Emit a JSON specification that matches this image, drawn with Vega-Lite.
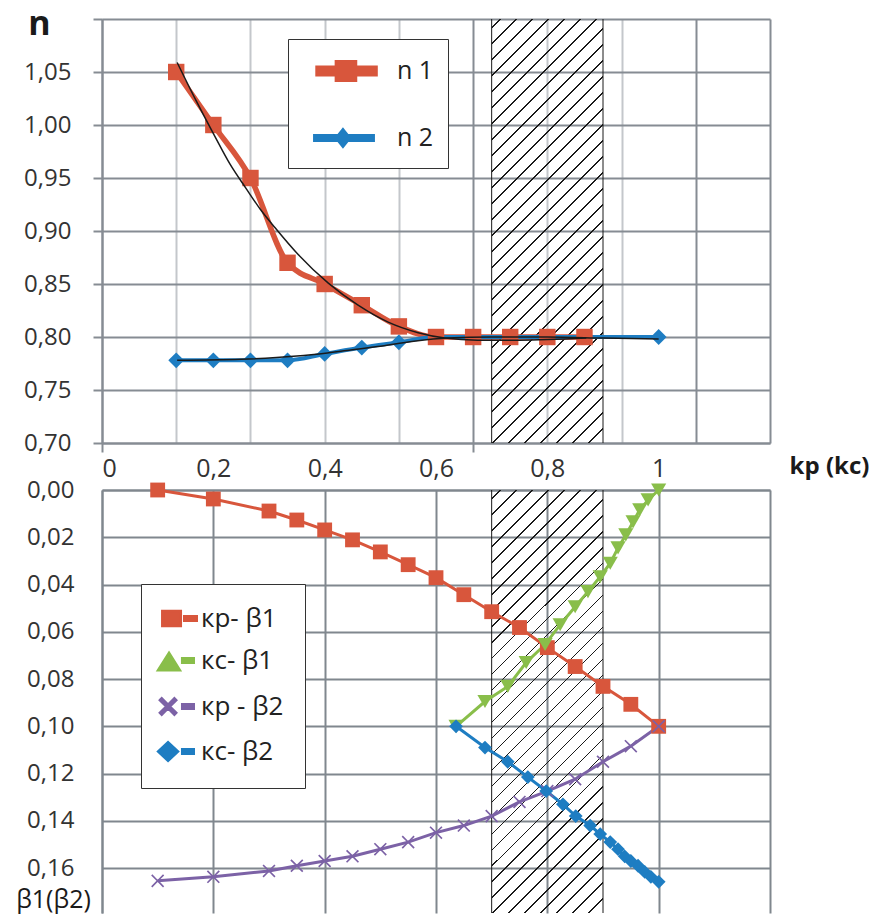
{
  "$schema": "https://vega.github.io/schema/vega-lite/v6.json",
  "autosize": {"type": "pad"},
  "padding": {"left": 15, "top": 7, "right": 0, "bottom": 0},
  "background": "white",
  "datasets": {
    "band": [{"a": 0.7, "b": 0.9}],
    "edges": [{"v": 0.7}, {"v": 0.9}],
    "top": [
      {"s": "n 1", "kp": 0.1333, "n": 1.05},
      {"s": "n 1", "kp": 0.2, "n": 1.0},
      {"s": "n 1", "kp": 0.2667, "n": 0.95},
      {"s": "n 1", "kp": 0.3333, "n": 0.87},
      {"s": "n 1", "kp": 0.4, "n": 0.85},
      {"s": "n 1", "kp": 0.4667, "n": 0.83},
      {"s": "n 1", "kp": 0.5333, "n": 0.81},
      {"s": "n 1", "kp": 0.6, "n": 0.8},
      {"s": "n 1", "kp": 0.6667, "n": 0.8},
      {"s": "n 1", "kp": 0.7333, "n": 0.8},
      {"s": "n 1", "kp": 0.8, "n": 0.8},
      {"s": "n 1", "kp": 0.8667, "n": 0.8},
      {"s": "n 2", "kp": 0.1333, "n": 0.778},
      {"s": "n 2", "kp": 0.2, "n": 0.778},
      {"s": "n 2", "kp": 0.2667, "n": 0.778},
      {"s": "n 2", "kp": 0.3333, "n": 0.778},
      {"s": "n 2", "kp": 0.4, "n": 0.784},
      {"s": "n 2", "kp": 0.4667, "n": 0.79},
      {"s": "n 2", "kp": 0.5333, "n": 0.795},
      {"s": "n 2", "kp": 0.6, "n": 0.8},
      {"s": "n 2", "kp": 0.6667, "n": 0.8},
      {"s": "n 2", "kp": 0.7333, "n": 0.8},
      {"s": "n 2", "kp": 0.8, "n": 0.8},
      {"s": "n 2", "kp": 0.8667, "n": 0.8},
      {"s": "n 2", "kp": 1.0, "n": 0.8}
    ],
    "trend": [
      {"s": "t1", "kp": 0.135, "n": 1.059},
      {"s": "t1", "kp": 0.17, "n": 1.022},
      {"s": "t1", "kp": 0.203, "n": 0.989},
      {"s": "t1", "kp": 0.23, "n": 0.963},
      {"s": "t1", "kp": 0.259, "n": 0.94},
      {"s": "t1", "kp": 0.285, "n": 0.92},
      {"s": "t1", "kp": 0.311, "n": 0.903},
      {"s": "t1", "kp": 0.352, "n": 0.878},
      {"s": "t1", "kp": 0.406, "n": 0.851},
      {"s": "t1", "kp": 0.46, "n": 0.83},
      {"s": "t1", "kp": 0.514, "n": 0.814},
      {"s": "t1", "kp": 0.568, "n": 0.804},
      {"s": "t1", "kp": 0.616, "n": 0.799},
      {"s": "t1", "kp": 0.675, "n": 0.797},
      {"s": "t1", "kp": 0.75, "n": 0.797},
      {"s": "t1", "kp": 0.87, "n": 0.799},
      {"s": "t2", "kp": 0.135, "n": 0.778},
      {"s": "t2", "kp": 0.25, "n": 0.779},
      {"s": "t2", "kp": 0.35, "n": 0.782},
      {"s": "t2", "kp": 0.405, "n": 0.785},
      {"s": "t2", "kp": 0.45, "n": 0.788},
      {"s": "t2", "kp": 0.495, "n": 0.791},
      {"s": "t2", "kp": 0.56, "n": 0.796},
      {"s": "t2", "kp": 0.62, "n": 0.799},
      {"s": "t2", "kp": 0.7, "n": 0.8},
      {"s": "t2", "kp": 0.8, "n": 0.8},
      {"s": "t2", "kp": 0.9, "n": 0.799},
      {"s": "t2", "kp": 1.0, "n": 0.798}
    ],
    "bot": [
      {"s": "кр- β1", "kp": 0.1, "b": 0.0},
      {"s": "кр- β1", "kp": 0.2, "b": 0.0038},
      {"s": "кр- β1", "kp": 0.3, "b": 0.0089},
      {"s": "кр- β1", "kp": 0.35, "b": 0.0127},
      {"s": "кр- β1", "kp": 0.4, "b": 0.0169},
      {"s": "кр- β1", "kp": 0.45, "b": 0.0211},
      {"s": "кр- β1", "kp": 0.5, "b": 0.0262},
      {"s": "кр- β1", "kp": 0.55, "b": 0.0316},
      {"s": "кр- β1", "kp": 0.6, "b": 0.0371},
      {"s": "кр- β1", "kp": 0.65, "b": 0.0443},
      {"s": "кр- β1", "kp": 0.7, "b": 0.0515},
      {"s": "кр- β1", "kp": 0.75, "b": 0.0582},
      {"s": "кр- β1", "kp": 0.8, "b": 0.0667},
      {"s": "кр- β1", "kp": 0.85, "b": 0.0747},
      {"s": "кр- β1", "kp": 0.9, "b": 0.0831},
      {"s": "кр- β1", "kp": 0.95, "b": 0.0907},
      {"s": "кр- β1", "kp": 1.0, "b": 0.1},
      {"s": "кс- β1", "kp": 0.636, "b": 0.1},
      {"s": "кс- β1", "kp": 0.688, "b": 0.0895},
      {"s": "кс- β1", "kp": 0.729, "b": 0.0831},
      {"s": "кс- β1", "kp": 0.762, "b": 0.073},
      {"s": "кс- β1", "kp": 0.796, "b": 0.0654},
      {"s": "кс- β1", "kp": 0.823, "b": 0.057},
      {"s": "кс- β1", "kp": 0.85, "b": 0.0494},
      {"s": "кс- β1", "kp": 0.873, "b": 0.043},
      {"s": "кс- β1", "kp": 0.895, "b": 0.0367},
      {"s": "кс- β1", "kp": 0.913, "b": 0.031},
      {"s": "кс- β1", "kp": 0.927, "b": 0.0245},
      {"s": "кс- β1", "kp": 0.941, "b": 0.019},
      {"s": "кс- β1", "kp": 0.954, "b": 0.0135},
      {"s": "кс- β1", "kp": 0.966, "b": 0.0084},
      {"s": "кс- β1", "kp": 0.981, "b": 0.0042},
      {"s": "кс- β1", "kp": 1.0, "b": 0.0},
      {"s": "кр - β2", "kp": 0.1, "b": 0.1654},
      {"s": "кр - β2", "kp": 0.2, "b": 0.1637},
      {"s": "кр - β2", "kp": 0.3, "b": 0.1612},
      {"s": "кр - β2", "kp": 0.35, "b": 0.159},
      {"s": "кр - β2", "kp": 0.4, "b": 0.157},
      {"s": "кр - β2", "kp": 0.45, "b": 0.155},
      {"s": "кр - β2", "kp": 0.5, "b": 0.152},
      {"s": "кр - β2", "kp": 0.55, "b": 0.149},
      {"s": "кр - β2", "kp": 0.6, "b": 0.145},
      {"s": "кр - β2", "kp": 0.65, "b": 0.142},
      {"s": "кр - β2", "kp": 0.7, "b": 0.138},
      {"s": "кр - β2", "kp": 0.75, "b": 0.132},
      {"s": "кр - β2", "kp": 0.8, "b": 0.1274},
      {"s": "кр - β2", "kp": 0.85, "b": 0.1224},
      {"s": "кр - β2", "kp": 0.9, "b": 0.115},
      {"s": "кр - β2", "kp": 0.95, "b": 0.1084},
      {"s": "кр - β2", "kp": 1.0, "b": 0.1},
      {"s": "кс- β2", "kp": 0.636, "b": 0.1},
      {"s": "кс- β2", "kp": 0.688, "b": 0.109},
      {"s": "кс- β2", "kp": 0.729, "b": 0.115},
      {"s": "кс- β2", "kp": 0.765, "b": 0.1215},
      {"s": "кс- β2", "kp": 0.798, "b": 0.1274},
      {"s": "кс- β2", "kp": 0.828, "b": 0.133},
      {"s": "кс- β2", "kp": 0.851, "b": 0.138},
      {"s": "кс- β2", "kp": 0.877, "b": 0.142},
      {"s": "кс- β2", "kp": 0.895, "b": 0.1456},
      {"s": "кс- β2", "kp": 0.913, "b": 0.149},
      {"s": "кс- β2", "kp": 0.927, "b": 0.152},
      {"s": "кс- β2", "kp": 0.939, "b": 0.155},
      {"s": "кс- β2", "kp": 0.95, "b": 0.157},
      {"s": "кс- β2", "kp": 0.963, "b": 0.159},
      {"s": "кс- β2", "kp": 0.975, "b": 0.1616},
      {"s": "кс- β2", "kp": 0.986, "b": 0.1637},
      {"s": "кс- β2", "kp": 1.0, "b": 0.1658}
    ]
  },
  "vconcat": [
    {
      "width": 668,
      "height": 424,
      "layer": [
        {
          "data": {"name": "band"},
          "mark": {"type": "rect"},
          "encoding": {
            "x": {"field": "a", "type": "quantitative"},
            "x2": {"field": "b"}
          }
        },
        {
          "data": {"name": "edges"},
          "mark": {"type": "rule", "color": "#1a1a1a", "strokeWidth": 1},
          "encoding": {"x": {"field": "v", "type": "quantitative"}}
        },
        {
          "data": {"name": "top"},
          "mark": {"type": "line", "interpolate": "monotone"},
          "encoding": {
            "x": {
              "field": "kp", "type": "quantitative",
              "scale": {"domain": [0, 1.2], "nice": false, "zero": false},
              "axis": {
                "values": [0, 0.06667, 0.13333, 0.2, 0.26667, 0.33333, 0.4, 0.46667, 0.53333, 0.6, 0.66667, 0.73333, 0.8, 0.86667, 0.93333, 1, 1.06667, 1.13333, 1.2],
                "labels": false,
                "title": null,
                "tickSize": 9,
                "tickWidth": 2,
                "tickColor": "#868c93",
                "tickOpacity": {"condition": {"test": "abs(datum.value*3 - round(datum.value*3)) < 0.01 && datum.value < 1.01", "value": 1}, "value": 0},
                "gridColor": {"condition": {"test": "abs(datum.value*3 - round(datum.value*3)) < 0.01 || datum.value > 1.01", "value": "#868c93"}, "value": "#c4c7cb"},
                "gridWidth": 2,
                "domainColor": "#868c93",
                "domainWidth": 2
              }
            },
            "y": {
              "field": "n", "type": "quantitative",
              "scale": {"domain": [0.7, 1.1], "nice": false, "zero": false},
              "axis": {
                "values": [0.7, 0.75, 0.8, 0.85, 0.9, 0.95, 1.0, 1.05, 1.1],
                "labelExpr": "datum.value > 1.09 ? '' : replace(format(datum.value, '.2f'), '.', ',')",
                "title": "n",
                "titleAngle": 0,
                "titleX": -63,
                "titleY": 15,
                "titleAlign": "center",
                "titleBaseline": "alphabetic",
                "titleFont": "Open Sans",
                "titleFontSize": 34,
                "titleFontWeight": "bold",
                "titleColor": "#1a1a1a",
                "tickSize": 9,
                "tickWidth": 2,
                "tickColor": "#868c93",
                "domainColor": "#868c93",
                "domainWidth": 2,
                "gridColor": "#868c93",
                "gridWidth": 2.2,
                "labelFont": "Open Sans",
                "labelFontSize": 24,
                "labelColor": "#333333",
                "labelPadding": 22
              }
            },
            "color": {
              "field": "s", "type": "nominal",
              "scale": {"domain": ["n 1", "n 2"], "range": ["#d8563c", "#1e7dc2"]},
              "legend": {
                "orient": "none",
                "legendX": 186,
                "legendY": 20,
                "title": null,
                "fillColor": "white",
                "strokeColor": "#333333",
                "padding": 14,
                "symbolSize": 900,
                "rowPadding": 30,
                "labelOffset": 59,
                "labelFont": "Open Sans",
                "labelFontSize": 25,
                "labelColor": "#222222",
                "labelExpr": "datum.label + '\u00a0\u00a0\u00a0\u00a0\u00a0\u00a0'",
                "symbolStrokeWidth": 0,
                "encode": {
                  "symbols": {
                    "update": {
                      "shape": {"signal": "['M-0.13,-0.18H3.67V0.18H-0.13Z M1.16,-0.55H2.3V0.55H1.16Z', 'M-0.33,-0.13H3.53V0.13H-0.33Z M1.53,-0.5L1.93,0L1.53,0.5L1.13,0Z'][datum.index]"},
                      "fill": {"signal": "['#d8563c', '#1e7dc2'][datum.index]"},
                      "fillOpacity": {"value": 1},
                      "opacity": {"value": 1},
                      "strokeWidth": {"value": 0}
                    }
                  }
                }
              }
            },
            "strokeWidth": {
              "field": "s", "type": "ordinal",
              "scale": {"domain": ["n 1", "n 2"], "range": [5.5, 4]},
              "legend": null
            }
          }
        },
        {
          "data": {"name": "top"},
          "transform": [{"filter": "datum.s == 'n 2'"}],
          "mark": {"type": "point", "filled": true, "opacity": 1, "shape": "diamond", "size": 250, "color": "#1e7dc2"},
          "encoding": {
            "x": {"field": "kp", "type": "quantitative"},
            "y": {"field": "n", "type": "quantitative"}
          }
        },
        {
          "data": {"name": "top"},
          "transform": [{"filter": "datum.s == 'n 1'"}],
          "mark": {"type": "point", "filled": true, "opacity": 1, "shape": "square", "size": 270, "color": "#d8563c"},
          "encoding": {
            "x": {"field": "kp", "type": "quantitative"},
            "y": {"field": "n", "type": "quantitative"}
          }
        },
        {
          "data": {"name": "trend"},
          "mark": {"type": "line", "color": "#1a1a1a", "strokeWidth": 1.5, "interpolate": "monotone"},
          "encoding": {
            "x": {"field": "kp", "type": "quantitative"},
            "y": {"field": "n", "type": "quantitative"},
            "detail": {"field": "s", "type": "nominal"}
          }
        }
      ]
    },
    {
      "width": 668,
      "height": 423,
      "layer": [
        {
          "data": {"name": "band"},
          "mark": {"type": "rect"},
          "encoding": {
            "x": {"field": "a", "type": "quantitative"},
            "x2": {"field": "b"}
          }
        },
        {
          "data": {"name": "edges"},
          "mark": {"type": "rule", "color": "#1a1a1a", "strokeWidth": 1},
          "encoding": {"x": {"field": "v", "type": "quantitative"}}
        },
        {
          "data": {"name": "bot"},
          "mark": {"type": "line"},
          "encoding": {
            "x": {
              "field": "kp", "type": "quantitative",
              "scale": {"domain": [0, 1.2], "nice": false, "zero": false},
              "axis": {
                "orient": "top",
                "values": [0, 0.2, 0.4, 0.6, 0.8, 1.0, 1.2],
                "labelExpr": "datum.value < 0.01 ? '0' : datum.value > 1.1 ? '' : datum.value > 0.99 ? '1' : replace(format(datum.value, '.1f'), '.', ',')",
                "ticks": false,
                "labelPadding": 9,
                "labelFont": "Open Sans",
                "labelFontSize": 25,
                "labelColor": "#333333",
                "domainColor": "#80878e",
                "domainWidth": 2,
                "gridColor": "#80878e",
                "gridWidth": 2,
                "title": "kp (kc)",
                "titleAngle": 0,
                "titleX": 727,
                "titleY": -24,
                "titleAlign": "center",
                "titleBaseline": "middle",
                "titleFont": "Open Sans",
                "titleFontSize": 24,
                "titleFontWeight": "bold",
                "titleColor": "#1a1a1a"
              }
            },
            "y": {
              "field": "b", "type": "quantitative",
              "scale": {"domain": [0, 0.179], "nice": false, "zero": false, "reverse": true},
              "axis": {
                "values": [0, 0.02, 0.04, 0.06, 0.08, 0.1, 0.12, 0.14, 0.16],
                "labelExpr": "replace(format(datum.value, '.2f'), '.', ',')",
                "ticks": false,
                "labelPadding": 28,
                "labelFont": "Open Sans",
                "labelFontSize": 24,
                "labelColor": "#333333",
                "domainColor": "#80878e",
                "domainWidth": 2,
                "gridColor": "#80878e",
                "gridWidth": 2,
                "title": "β1(β2)",
                "titleAngle": 0,
                "titleX": -49,
                "titleY": 422,
                "titleAlign": "center",
                "titleBaseline": "bottom",
                "titleFont": "Open Sans",
                "titleFontSize": 25,
                "titleFontWeight": "normal",
                "titleColor": "#1a1a1a"
              }
            },
            "color": {
              "field": "s", "type": "nominal",
              "scale": {"domain": ["кр- β1", "кс- β1", "кр - β2", "кс- β2"], "range": ["#d8563c", "#89be4a", "#7c62a6", "#1e7dc2"]},
              "legend": {
                "orient": "none",
                "legendX": 39,
                "legendY": 94,
                "title": null,
                "fillColor": "white",
                "strokeColor": "#333333",
                "padding": 21,
                "symbolSize": 576,
                "rowPadding": 15,
                "labelOffset": 12,
                "labelFont": "Open Sans",
                "labelFontSize": 26,
                "labelColor": "#222222",
                "symbolStrokeWidth": 0,
                "encode": {
                  "symbols": {
                    "update": {
                      "shape": {"signal": "['M-1.08,-0.6H0.42V0.6H-1.08Z M0.75,-0.17H1.75V0.17H0.75Z', 'M-0.54,-0.6L0.33,0.8H-1.42Z M0.58,-0.17H1.5V0.17H0.58Z', 'M-1.27,-0.53L-1.15,-0.65L-0.62,-0.12L-0.09,-0.65L0.03,-0.53L-0.5,0L0.03,0.53L-0.09,0.65L-0.62,0.12L-1.15,0.65L-1.27,0.53L-0.74,0Z M0.58,-0.17H1.5V0.17H0.58Z', 'M-0.62,-0.75L0.18,0L-0.62,0.75L-1.42,0Z M0.58,-0.17H1.5V0.17H0.58Z'][datum.index]"},
                      "fill": {"signal": "['#d8563c', '#89be4a', '#7c62a6', '#1e7dc2'][datum.index]"},
                      "fillOpacity": {"value": 1},
                      "opacity": {"value": 1},
                      "strokeWidth": {"value": 0}
                    }
                  }
                }
              }
            },
            "strokeWidth": {
              "field": "s", "type": "ordinal",
              "scale": {"domain": ["кр- β1", "кс- β1", "кр - β2", "кс- β2"], "range": [3, 3, 3, 4]},
              "legend": null
            }
          }
        },
        {
          "data": {"name": "bot"},
          "transform": [{"filter": "datum.s == 'кр- β1'"}],
          "mark": {"type": "point", "filled": true, "opacity": 1, "shape": "square", "size": 220, "color": "#d8563c"},
          "encoding": {
            "x": {"field": "kp", "type": "quantitative"},
            "y": {"field": "b", "type": "quantitative"}
          }
        },
        {
          "data": {"name": "bot"},
          "transform": [{"filter": "datum.s == 'кс- β1'"}],
          "mark": {"type": "point", "filled": true, "opacity": 1, "shape": "triangle-down", "size": 230, "color": "#89be4a"},
          "encoding": {
            "x": {"field": "kp", "type": "quantitative"},
            "y": {"field": "b", "type": "quantitative"}
          }
        },
        {
          "data": {"name": "bot"},
          "transform": [{"filter": "datum.s == 'кр - β2'"}],
          "mark": {"type": "point", "filled": true, "opacity": 1, "shape": "M-1,-0.82L-0.82,-1L0,-0.18L0.82,-1L1,-0.82L0.18,0L1,0.82L0.82,1L0,0.18L-0.82,1L-1,0.82L-0.18,0Z", "size": 170, "color": "#7c62a6"},
          "encoding": {
            "x": {"field": "kp", "type": "quantitative"},
            "y": {"field": "b", "type": "quantitative"}
          }
        },
        {
          "data": {"name": "bot"},
          "transform": [{"filter": "datum.s == 'кс- β2'"}],
          "mark": {"type": "point", "filled": true, "opacity": 1, "shape": "diamond", "size": 190, "color": "#1e7dc2"},
          "encoding": {
            "x": {"field": "kp", "type": "quantitative"},
            "y": {"field": "b", "type": "quantitative"}
          }
        }
      ]
    }
  ],
  "spacing": 47,
  "bounds": "flush",
  "resolve": {"scale": {"color": "independent", "strokeWidth": "independent"}, "legend": {"color": "independent"}},
  "config": {
    "view": {"stroke": null},
    "font": "Open Sans",
    "rect": {
      "fill": {
        "gradient": "linear",
        "x1": 0, "y1": 0, "x2": 0.3108, "y2": 1.1813,
        "stops": [
          {"offset": 0, "color": "rgba(0,0,0,0)"},
          {"offset": 0.015, "color": "rgba(0,0,0,0)"}, {"offset": 0.015, "color": "#1a1a1a"}, {"offset": 0.018, "color": "#1a1a1a"}, {"offset": 0.018, "color": "rgba(0,0,0,0)"},
          {"offset": 0.0449, "color": "rgba(0,0,0,0)"}, {"offset": 0.0449, "color": "#1a1a1a"}, {"offset": 0.0479, "color": "#1a1a1a"}, {"offset": 0.0479, "color": "rgba(0,0,0,0)"},
          {"offset": 0.0748, "color": "rgba(0,0,0,0)"}, {"offset": 0.0748, "color": "#1a1a1a"}, {"offset": 0.0778, "color": "#1a1a1a"}, {"offset": 0.0778, "color": "rgba(0,0,0,0)"},
          {"offset": 0.1047, "color": "rgba(0,0,0,0)"}, {"offset": 0.1047, "color": "#1a1a1a"}, {"offset": 0.1077, "color": "#1a1a1a"}, {"offset": 0.1077, "color": "rgba(0,0,0,0)"},
          {"offset": 0.1346, "color": "rgba(0,0,0,0)"}, {"offset": 0.1346, "color": "#1a1a1a"}, {"offset": 0.1376, "color": "#1a1a1a"}, {"offset": 0.1376, "color": "rgba(0,0,0,0)"},
          {"offset": 0.1645, "color": "rgba(0,0,0,0)"}, {"offset": 0.1645, "color": "#1a1a1a"}, {"offset": 0.1675, "color": "#1a1a1a"}, {"offset": 0.1675, "color": "rgba(0,0,0,0)"},
          {"offset": 0.1943, "color": "rgba(0,0,0,0)"}, {"offset": 0.1943, "color": "#1a1a1a"}, {"offset": 0.1973, "color": "#1a1a1a"}, {"offset": 0.1973, "color": "rgba(0,0,0,0)"},
          {"offset": 0.2242, "color": "rgba(0,0,0,0)"}, {"offset": 0.2242, "color": "#1a1a1a"}, {"offset": 0.2272, "color": "#1a1a1a"}, {"offset": 0.2272, "color": "rgba(0,0,0,0)"},
          {"offset": 0.2541, "color": "rgba(0,0,0,0)"}, {"offset": 0.2541, "color": "#1a1a1a"}, {"offset": 0.2571, "color": "#1a1a1a"}, {"offset": 0.2571, "color": "rgba(0,0,0,0)"},
          {"offset": 0.284, "color": "rgba(0,0,0,0)"}, {"offset": 0.284, "color": "#1a1a1a"}, {"offset": 0.287, "color": "#1a1a1a"}, {"offset": 0.287, "color": "rgba(0,0,0,0)"},
          {"offset": 0.3139, "color": "rgba(0,0,0,0)"}, {"offset": 0.3139, "color": "#1a1a1a"}, {"offset": 0.3169, "color": "#1a1a1a"}, {"offset": 0.3169, "color": "rgba(0,0,0,0)"},
          {"offset": 0.3438, "color": "rgba(0,0,0,0)"}, {"offset": 0.3438, "color": "#1a1a1a"}, {"offset": 0.3468, "color": "#1a1a1a"}, {"offset": 0.3468, "color": "rgba(0,0,0,0)"},
          {"offset": 0.3737, "color": "rgba(0,0,0,0)"}, {"offset": 0.3737, "color": "#1a1a1a"}, {"offset": 0.3767, "color": "#1a1a1a"}, {"offset": 0.3767, "color": "rgba(0,0,0,0)"},
          {"offset": 0.4036, "color": "rgba(0,0,0,0)"}, {"offset": 0.4036, "color": "#1a1a1a"}, {"offset": 0.4066, "color": "#1a1a1a"}, {"offset": 0.4066, "color": "rgba(0,0,0,0)"},
          {"offset": 0.4335, "color": "rgba(0,0,0,0)"}, {"offset": 0.4335, "color": "#1a1a1a"}, {"offset": 0.4365, "color": "#1a1a1a"}, {"offset": 0.4365, "color": "rgba(0,0,0,0)"},
          {"offset": 0.4634, "color": "rgba(0,0,0,0)"}, {"offset": 0.4634, "color": "#1a1a1a"}, {"offset": 0.4664, "color": "#1a1a1a"}, {"offset": 0.4664, "color": "rgba(0,0,0,0)"},
          {"offset": 0.4932, "color": "rgba(0,0,0,0)"}, {"offset": 0.4932, "color": "#1a1a1a"}, {"offset": 0.4962, "color": "#1a1a1a"}, {"offset": 0.4962, "color": "rgba(0,0,0,0)"},
          {"offset": 0.5231, "color": "rgba(0,0,0,0)"}, {"offset": 0.5231, "color": "#1a1a1a"}, {"offset": 0.5261, "color": "#1a1a1a"}, {"offset": 0.5261, "color": "rgba(0,0,0,0)"},
          {"offset": 0.553, "color": "rgba(0,0,0,0)"}, {"offset": 0.553, "color": "#1a1a1a"}, {"offset": 0.556, "color": "#1a1a1a"}, {"offset": 0.556, "color": "rgba(0,0,0,0)"},
          {"offset": 0.5829, "color": "rgba(0,0,0,0)"}, {"offset": 0.5829, "color": "#1a1a1a"}, {"offset": 0.5859, "color": "#1a1a1a"}, {"offset": 0.5859, "color": "rgba(0,0,0,0)"},
          {"offset": 0.6128, "color": "rgba(0,0,0,0)"}, {"offset": 0.6128, "color": "#1a1a1a"}, {"offset": 0.6158, "color": "#1a1a1a"}, {"offset": 0.6158, "color": "rgba(0,0,0,0)"},
          {"offset": 0.6427, "color": "rgba(0,0,0,0)"}, {"offset": 0.6427, "color": "#1a1a1a"}, {"offset": 0.6457, "color": "#1a1a1a"}, {"offset": 0.6457, "color": "rgba(0,0,0,0)"},
          {"offset": 0.6726, "color": "rgba(0,0,0,0)"}, {"offset": 0.6726, "color": "#1a1a1a"}, {"offset": 0.6756, "color": "#1a1a1a"}, {"offset": 0.6756, "color": "rgba(0,0,0,0)"},
          {"offset": 0.7025, "color": "rgba(0,0,0,0)"}, {"offset": 0.7025, "color": "#1a1a1a"}, {"offset": 0.7055, "color": "#1a1a1a"}, {"offset": 0.7055, "color": "rgba(0,0,0,0)"},
          {"offset": 0.7324, "color": "rgba(0,0,0,0)"}, {"offset": 0.7324, "color": "#1a1a1a"}, {"offset": 0.7354, "color": "#1a1a1a"}, {"offset": 0.7354, "color": "rgba(0,0,0,0)"},
          {"offset": 0.7623, "color": "rgba(0,0,0,0)"}, {"offset": 0.7623, "color": "#1a1a1a"}, {"offset": 0.7653, "color": "#1a1a1a"}, {"offset": 0.7653, "color": "rgba(0,0,0,0)"},
          {"offset": 0.7921, "color": "rgba(0,0,0,0)"}, {"offset": 0.7921, "color": "#1a1a1a"}, {"offset": 0.7951, "color": "#1a1a1a"}, {"offset": 0.7951, "color": "rgba(0,0,0,0)"},
          {"offset": 0.822, "color": "rgba(0,0,0,0)"}, {"offset": 0.822, "color": "#1a1a1a"}, {"offset": 0.825, "color": "#1a1a1a"}, {"offset": 0.825, "color": "rgba(0,0,0,0)"},
          {"offset": 0.8519, "color": "rgba(0,0,0,0)"}, {"offset": 0.8519, "color": "#1a1a1a"}, {"offset": 0.8549, "color": "#1a1a1a"}, {"offset": 0.8549, "color": "rgba(0,0,0,0)"},
          {"offset": 0.8818, "color": "rgba(0,0,0,0)"}, {"offset": 0.8818, "color": "#1a1a1a"}, {"offset": 0.8848, "color": "#1a1a1a"}, {"offset": 0.8848, "color": "rgba(0,0,0,0)"},
          {"offset": 0.9117, "color": "rgba(0,0,0,0)"}, {"offset": 0.9117, "color": "#1a1a1a"}, {"offset": 0.9147, "color": "#1a1a1a"}, {"offset": 0.9147, "color": "rgba(0,0,0,0)"},
          {"offset": 0.9416, "color": "rgba(0,0,0,0)"}, {"offset": 0.9416, "color": "#1a1a1a"}, {"offset": 0.9446, "color": "#1a1a1a"}, {"offset": 0.9446, "color": "rgba(0,0,0,0)"},
          {"offset": 0.9715, "color": "rgba(0,0,0,0)"}, {"offset": 0.9715, "color": "#1a1a1a"}, {"offset": 0.9745, "color": "#1a1a1a"}, {"offset": 0.9745, "color": "rgba(0,0,0,0)"},
          {"offset": 1, "color": "rgba(0,0,0,0)"}
        ]
      }
    }
  }
}
